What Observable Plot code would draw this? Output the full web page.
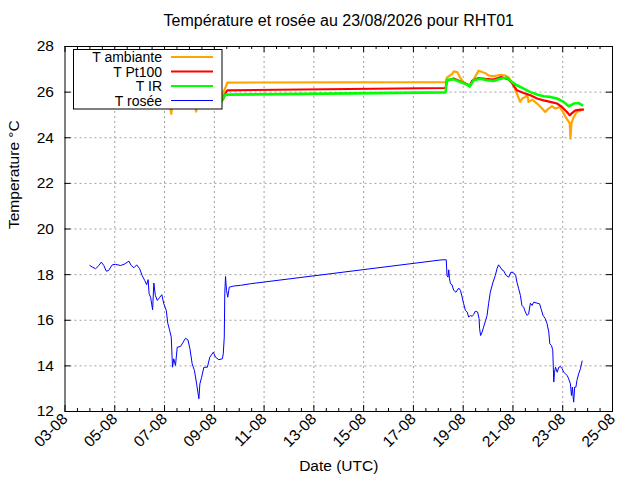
<!DOCTYPE html>
<html><head><meta charset="utf-8">
<script src="https://cdn.jsdelivr.net/npm/d3@7"></script>
<script src="https://cdn.jsdelivr.net/npm/@observablehq/plot@0.6"></script>
<style>body{margin:0;background:#fff} svg{display:block}</style>
</head><body><div id="chart"></div>
<script>
// ---- texts ----
const title = "Température et rosée au 23/08/2026 pour RHT01";
const yLabel = "Temperature °C";
const xLabel = "Date (UTC)";
const seriesNames = ["T ambiante", "T Pt100", "T IR", "T rosée"];
const seriesColors = ["#ffa500", "#ff0000", "#00ff00", "#0000ff"];

// ---- ticks (day of August 2026, temperature) ----
const xTickDays = [3, 5, 7, 9, 11, 13, 15, 17, 19, 21, 23, 25];
const yTicks = [12, 14, 16, 18, 20, 22, 24, 26, 28];

// ---- data: time as fractional day of August 2026 (UTC) ----
const ambDay = [4.00, 5.00, 6.00, 7.20, 7.27, 7.32, 8.22, 8.27, 8.32, 9.20, 9.32, 9.36, 9.45, 9.52,
  18.29, 18.35, 18.55, 18.62, 18.76, 18.89, 19.02, 19.16, 19.26, 19.36, 19.49, 19.62, 19.76, 19.89,
  20.02, 20.22, 20.36, 20.52, 20.69, 20.83, 20.96, 21.06, 21.16, 21.29, 21.37, 21.50, 21.57, 21.63,
  21.77, 21.97, 22.17, 22.30, 22.43, 22.57, 22.70, 22.88, 23.01, 23.10, 23.20, 23.28, 23.31, 23.35,
  23.44, 23.57, 23.78];
const ambVal = [25.6, 25.5, 25.6, 25.5, 25.05, 25.5, 25.5, 25.15, 25.5, 25.6, 25.67, 26.0, 26.2, 26.42,
  26.44, 26.64, 26.79, 26.91, 26.88, 26.61, 26.44, 26.35, 26.25, 26.44, 26.69, 26.94, 26.88, 26.83,
  26.73, 26.69, 26.73, 26.76, 26.73, 26.64, 26.39, 26.20, 25.93, 25.57, 25.72, 25.79, 25.90, 25.57,
  25.67, 25.50, 25.28, 25.13, 25.28, 25.38, 25.28, 25.35, 25.13, 24.94, 24.76, 24.64, 23.96, 24.62,
  24.91, 25.13, 25.23];

const ptDay = [4.00, 5.00, 6.00, 7.00, 8.00, 9.20, 9.36, 9.45, 9.52,
  18.29, 18.35, 18.62, 18.89, 19.16, 19.26, 19.36, 19.62, 19.89, 20.22, 20.52, 20.83, 20.96,
  21.16, 21.43, 21.70, 21.97, 22.23, 22.50, 22.77, 22.97, 23.17, 23.28, 23.37, 23.51, 23.71, 23.82];
const ptVal = [25.5, 25.45, 25.5, 25.45, 25.5, 25.5, 25.7, 25.95, 26.08,
  26.18, 26.50, 26.60, 26.47, 26.33, 26.28, 26.50, 26.62, 26.58, 26.55, 26.66, 26.55, 26.40,
  26.08, 25.96, 25.86, 25.72, 25.64, 25.57, 25.50, 25.35, 25.13, 24.98, 25.08, 25.20, 25.23, 25.23];

const irDay = [4.00, 5.00, 6.00, 7.00, 8.00, 9.20, 9.32, 9.45, 9.52,
  18.29, 18.35, 18.62, 18.89, 19.16, 19.26, 19.42, 19.69, 19.96, 20.22, 20.49, 20.76, 20.96,
  21.16, 21.43, 21.70, 21.97, 22.23, 22.50, 22.77, 23.04, 23.24, 23.44, 23.64, 23.78];
const irVal = [25.4, 25.35, 25.4, 25.35, 25.4, 25.4, 25.67, 25.89, 25.89,
  25.99, 26.54, 26.56, 26.44, 26.33, 26.25, 26.52, 26.59, 26.52, 26.49, 26.59, 26.63, 26.44,
  26.30, 26.15, 26.00, 25.90, 25.82, 25.79, 25.72, 25.57, 25.38, 25.50, 25.52, 25.43];

const dewDay = [4.00, 4.10, 4.23, 4.36, 4.46, 4.56, 4.66, 4.75, 4.90, 5.03, 5.23, 5.37, 5.57, 5.66,
  5.77, 5.88, 6.00, 6.10, 6.20, 6.28, 6.34, 6.38, 6.44, 6.52, 6.57, 6.63, 6.71, 6.81, 6.89, 6.97,
  7.07, 7.13, 7.20, 7.27, 7.32, 7.37, 7.44, 7.51, 7.64, 7.75, 7.84, 7.94, 8.02, 8.11, 8.20, 8.29,
  8.38, 8.42, 8.49, 8.58, 8.72, 8.82, 8.96, 9.05, 9.18, 9.32, 9.36, 9.40, 9.42, 9.45, 9.49, 9.54,
  9.60, 9.78, 10.05, 10.45, 18.15, 18.32, 18.35, 18.39, 18.42, 18.45, 18.49, 18.55, 18.62, 18.71,
  18.82, 18.89, 18.96, 19.02, 19.09, 19.16, 19.22, 19.29, 19.36, 19.42, 19.49, 19.58, 19.64, 19.66,
  19.70, 19.76, 19.82, 19.90, 19.96, 20.02, 20.09, 20.20, 20.29, 20.36, 20.42, 20.49, 20.56, 20.62,
  20.73, 20.83, 20.92, 21.03, 21.11, 21.16, 21.23, 21.30, 21.36, 21.43, 21.50, 21.57, 21.63, 21.70,
  21.77, 21.83, 21.97, 22.07, 22.13, 22.21, 22.30, 22.37, 22.44, 22.48, 22.55, 22.60, 22.63, 22.64,
  22.67, 22.71, 22.78, 22.84, 22.91, 22.98, 23.04, 23.11, 23.18, 23.24, 23.31, 23.35, 23.39, 23.42,
  23.44, 23.48, 23.53, 23.57, 23.64, 23.71, 23.78];
const dewVal = [18.40, 18.33, 18.26, 18.40, 18.55, 18.40, 18.15, 18.18, 18.43, 18.45, 18.40, 18.45, 18.59, 18.40,
  18.30, 18.43, 18.26, 17.96, 17.75, 17.56, 17.78, 17.16, 17.01, 16.46, 17.63, 17.09, 16.87, 17.01, 17.12, 16.72,
  16.43, 15.87, 15.58, 15.26, 13.94, 14.31, 14.02, 14.82, 14.85, 15.04, 15.21, 15.14, 14.75, 14.09, 13.80, 13.21,
  12.56, 13.21, 13.50, 13.94, 13.94, 14.38, 14.60, 14.38, 14.27, 14.31, 14.53, 15.26, 17.16, 17.92, 17.31, 17.01,
  17.45, 17.50, 17.53, 17.60, 18.65, 18.65, 17.96, 17.89, 18.21, 17.82, 17.60, 17.56, 17.31, 17.23,
  17.41, 17.31, 17.01, 16.72, 16.43, 16.36, 16.14, 16.21, 16.17, 16.25, 16.40, 16.36, 16.07, 15.63,
  15.33, 15.48, 15.70, 15.99, 16.21, 16.72, 17.23, 17.67, 17.96, 18.26, 18.43, 18.33, 18.21, 18.18,
  17.96, 17.89, 18.11, 18.07, 17.96, 17.67, 17.38, 17.09, 16.65, 16.57, 16.36, 16.21, 16.28, 16.75,
  16.65, 16.79, 16.75, 16.72, 16.50, 16.21, 16.07, 15.85, 15.48, 14.97, 14.89, 14.68, 13.65, 13.29,
  13.72, 13.94, 13.72, 13.94, 13.97, 13.87, 13.72, 13.65, 13.58, 13.43, 13.21, 12.70, 13.07, 12.63,
  12.41, 13.07, 13.07, 13.36, 13.65, 13.87, 14.21];

// ---- helpers ----
const toDate = dom => new Date(Date.UTC(2026, 7, 1) + (dom - 1) * 864e5);
const toRows = (days, vals) => days.map((d, i) => ({t: toDate(d), v: vals[i]}));
const amb = toRows(ambDay, ambVal), pt = toRows(ptDay, ptVal), ir = toRows(irDay, irVal), dew = toRows(dewDay, dewVal);
const xTickDates = xTickDays.map(toDate);
const x0 = xTickDates[0], x1 = xTickDates[xTickDates.length - 1];
const minorDates = d3.utcHour.every(12).range(x0, x1).filter(d => d.getUTCHours() !== 0 || d.getUTCDate() % 2 === 0);
const innerX = xTickDates.slice(1, -1);
const innerY = yTicks.slice(1, -1);

const W = 640, H = 480, mL = 64.5, mR = 28, mT = 46, mB = 69;
const fw = W - mL - mR, fh = H - mT - mB;
const font = "'Liberation Sans', Arial, sans-serif";

const plot = Plot.plot({
  width: W, height: H,
  marginLeft: mL, marginRight: mR, marginTop: mT, marginBottom: mB,
  style: {fontFamily: font, fontSize: "15.5px", background: "white", color: "black", overflow: "visible"},
  x: {type: "utc", domain: [x0, x1]},
  y: {domain: [yTicks[0], yTicks[yTicks.length - 1]]},
  marks: [
    Plot.gridX(innerX, {stroke: "#a0a0a0", strokeOpacity: 1, strokeDasharray: "2,3"}),
    Plot.gridY(innerY, {stroke: "#a0a0a0", strokeOpacity: 1, strokeDasharray: "2,3"}),
    Plot.lineY(amb, {x: "t", y: "v", stroke: seriesColors[0], strokeWidth: 2.2}),
    Plot.lineY(pt, {x: "t", y: "v", stroke: seriesColors[1], strokeWidth: 2.2}),
    Plot.lineY(ir, {x: "t", y: "v", stroke: seriesColors[2], strokeWidth: 2.6}),
    Plot.lineY(dew, {x: "t", y: "v", stroke: seriesColors[3], strokeWidth: 1}),
    Plot.frame({stroke: "black", strokeWidth: 1}),
    // inward major ticks (bottom/top/left/right) and minor x ticks every 12 h
    Plot.tickX(xTickDates, {x: d => d, insetTop: fh - 6, stroke: "black"}),
    Plot.tickX(xTickDates, {x: d => d, insetBottom: fh - 6, stroke: "black"}),
    Plot.tickX(minorDates, {x: d => d, insetTop: fh - 3, stroke: "black"}),
    Plot.tickX(minorDates, {x: d => d, insetBottom: fh - 3, stroke: "black"}),
    Plot.tickY(yTicks, {y: d => d, insetRight: fw - 6, stroke: "black"}),
    Plot.tickY(yTicks, {y: d => d, insetLeft: fw - 6, stroke: "black"}),
    Plot.axisX(xTickDates, {anchor: "bottom", tickSize: 0, tickPadding: 5, tickRotate: -45,
      tickFormat: d3.utcFormat("%d-%m"), label: null, fontSize: 15.5}),
    Plot.axisY(yTicks, {anchor: "left", tickSize: 0, tickPadding: 11, label: null, fontSize: 15.5}),
    Plot.text([title], {frameAnchor: "top", lineAnchor: "middle", dy: -26, text: d => d, fontSize: 16}),
    Plot.text([xLabel], {frameAnchor: "bottom", lineAnchor: "middle", dy: 55, text: d => d, fontSize: 15.5}),
    Plot.text([yLabel], {frameAnchor: "left", dx: -50.5, rotate: -90, text: d => d, fontSize: 15.5})
  ]
});

// ---- legend box (drawn over the data, like the original) ----
const svg = d3.select(plot);
const lg = svg.append("g").attr("font-family", font).attr("font-size", "14px");
lg.append("rect").attr("x", 73.5).attr("y", 49.5).attr("width", 148.5).attr("height", 59.5)
  .attr("fill", "white").attr("stroke", "black");
seriesNames.forEach((name, i) => {
  const yy = 57 + i * 14.5;
  lg.append("text").attr("x", 162).attr("y", yy).attr("text-anchor", "end")
    .attr("dominant-baseline", "central").attr("fill", "black").text(name);
  lg.append("line").attr("x1", 171).attr("x2", 213).attr("y1", yy).attr("y2", yy)
    .attr("stroke", seriesColors[i]).attr("stroke-width", i === 3 ? 1 : 2.2);
});

document.getElementById("chart").appendChild(plot);
</script>
</body></html>
